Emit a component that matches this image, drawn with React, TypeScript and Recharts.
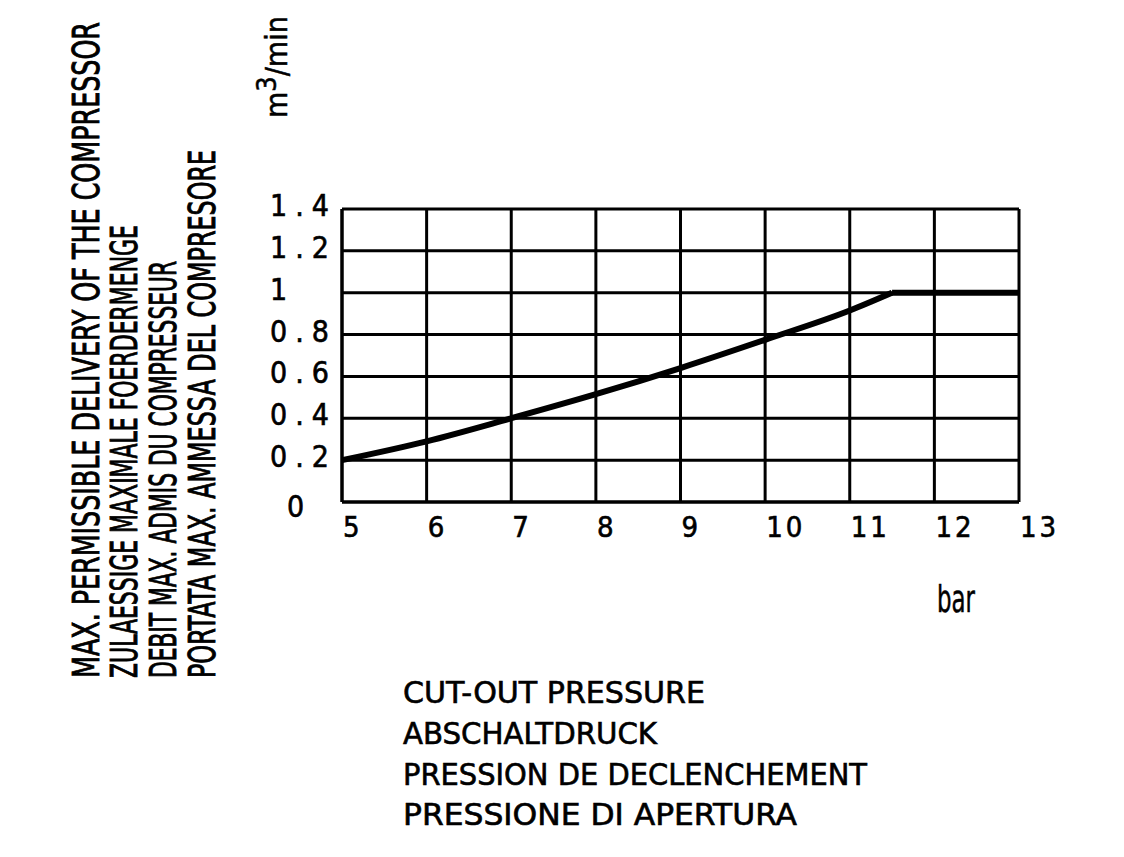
import React from "react";
import { LineChart, Line, XAxis, YAxis, CartesianGrid } from "recharts";

const curvePressure = [5, 6, 7, 8, 9, 10, 11, 11.5];
const curveDelivery = [0.2, 0.29, 0.4, 0.515, 0.64, 0.775, 0.915, 1.0];
const flatPressure = [11.5, 13];
const flatDelivery = [1.0, 1.0];
const xTicks = [5, 6, 7, 8, 9, 10, 11, 12, 13];
const yTicks = [0, 0.2, 0.4, 0.6, 0.8, 1, 1.2, 1.4];
const yTitleLines = [
  "MAX. PERMISSIBLE DELIVERY OF THE COMPRESSOR",
  "ZULAESSIGE MAXIMALE FOERDERMENGE",
  "DEBIT MAX. ADMIS DU COMPRESSEUR",
  "PORTATA MAX. AMMESSA DEL COMPRESORE",
];
const xTitleLines = [
  "CUT-OUT PRESSURE",
  "ABSCHALTDRUCK",
  "PRESSION DE DECLENCHEMENT",
  "PRESSIONE DI APERTURA",
];
const xUnit = "bar";

const curveData = curvePressure.map((x, i) => ({ x, y: curveDelivery[i] }));
const flatData = flatPressure.map((x, i) => ({ x, y: flatDelivery[i] }));

const FONT = "'Liberation Sans Narrow', 'DejaVu Sans Condensed', 'DejaVu Sans', sans-serif";

const yTitleBaselines = [99, 137, 176, 215];
const yTitleLengths = [656, 453, 417, 528];
const xTitleBaselines = [703, 744, 785, 825];
const xTitleLengths = [302, 254, 464, 394];

const YTick = (props: any) => {
  const v = props.payload.value;
  const isZero = v === 0;
  return (
    <text
      x={isZero ? 287 : 270}
      y={props.y + (isZero ? 15 : 7)}
      fontFamily={FONT}
      fontSize={30}
      letterSpacing={isZero ? 0 : 8}
      fill="#000"
      stroke="#000"
      strokeWidth={0.6}
      textAnchor="start"
    >
      {String(v)}
    </text>
  );
};

const XTick = (props: any) => {
  const v = props.payload.value;
  return (
    <text
      x={props.x + 1}
      y={537}
      fontFamily={FONT}
      fontSize={29}
      letterSpacing={v >= 10 ? 3 : 0}
      fill="#000"
      stroke="#000"
      strokeWidth={0.6}
      textAnchor="start"
    >
      {String(v)}
    </text>
  );
};

export default function App() {
  return (
    <div style={{ position: "absolute", left: 0, top: 0, width: 1124, height: 857, background: "#fff" }}>
      <LineChart
        width={1124}
        height={857}
        margin={{ top: 209, left: 282, right: 105, bottom: 325 }}
      >
        <CartesianGrid stroke="#000" strokeWidth={3} horizontalValues={yTicks} verticalValues={xTicks} />
        <XAxis
          type="number"
          dataKey="x"
          domain={[5, 13]}
          ticks={xTicks}
          height={30}
          tickLine={false}
          axisLine={{ stroke: "#000", strokeWidth: 3 }}
          tick={<XTick />}
          interval={0}
        />
        <YAxis
          type="number"
          dataKey="y"
          domain={[0, 1.4]}
          ticks={yTicks}
          width={60}
          tickLine={false}
          axisLine={{ stroke: "#000", strokeWidth: 3 }}
          tick={<YTick />}
          interval={0}
        />
        <Line
          data={curveData}
          dataKey="y"
          type="monotone"
          stroke="#000"
          strokeWidth={6}
          dot={false}
          isAnimationActive={false}
        />
        <Line
          data={flatData}
          dataKey="y"
          type="linear"
          stroke="#000"
          strokeWidth={6}
          dot={false}
          isAnimationActive={false}
        />
      </LineChart>
      <svg
        width={1124}
        height={857}
        style={{ position: "absolute", left: 0, top: 0, pointerEvents: "none" }}
      >
        {yTitleLines.map((t, i) => (
          <text
            key={t}
            transform={`translate(${yTitleBaselines[i]}, 678) rotate(-90)`}
            fontFamily={FONT}
            fontSize={37}
            textLength={yTitleLengths[i]}
            lengthAdjust="spacingAndGlyphs"
            fill="#000"
            stroke="#000"
            strokeWidth={0.9}
          >
            {t}
          </text>
        ))}
        <text transform="translate(287, 118) rotate(-90)" fontFamily={FONT} fontSize={30} fill="#000" stroke="#000" strokeWidth={0.5}>
          m
          <tspan dy={-11} fontSize={27}>3</tspan>
          <tspan dy={11}>/min</tspan>
        </text>
        {xTitleLines.map((t, i) => (
          <text
            key={t}
            x={403}
            y={xTitleBaselines[i]}
            fontFamily={FONT}
            fontSize={31}
            textLength={xTitleLengths[i]}
            lengthAdjust="spacingAndGlyphs"
            fill="#000"
            stroke="#000"
            strokeWidth={0.6}
          >
            {t}
          </text>
        ))}
        <text x={937} y={612} fontFamily={FONT} fontSize={38} textLength={38} lengthAdjust="spacingAndGlyphs" fill="#000" stroke="#000" strokeWidth={0.5}>
          {xUnit}
        </text>
      </svg>
    </div>
  );
}
